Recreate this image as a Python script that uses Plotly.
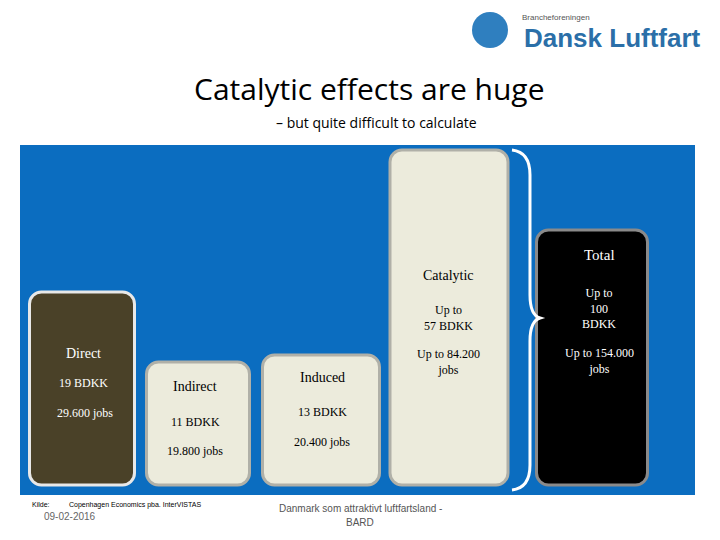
import plotly.graph_objects as go

W, H = 720, 540
categories = ["Direct", "Indirect", "Induced", "Catalytic", "Total"]
bdkk_labels = ["19 BDKK", "11 BDKK", "13 BDKK", "Up to<br>57 BDKK", "Up to<br>100<br>BDKK"]
jobs_labels = ["29.600 jobs", "19.800 jobs", "20.400 jobs", "Up to 84.200<br>jobs", "Up to 154.000<br>jobs"]
box_heights = [193, 123, 130, 335, 255]
box_centers = [62, 178, 301, 429, 572]
box_widths = [105, 103, 117, 118, 111]
fills = ["#4a4128", "#ecebdc", "#ecebdc", "#ecebdc", "#000000"]
borders = ["#e8e8e8", "#b0b0a8", "#b0b0a8", "#b0b0a8", "#8a8a8a"]

fig = go.Figure()
fig.add_trace(go.Bar(x=box_centers, y=box_heights, base=[10]*5, width=box_widths,
                     marker=dict(color=fills, line=dict(color=borders, width=3), cornerradius=12),
                     hoverinfo="skip"))

def px(x, y):
    return x / W, 1 - y / H

ann = []
def t(x, y, s, size=12, color="black", family="Liberation Serif", xanchor="center"):
    xx, yy = px(x, y)
    ann.append(dict(x=xx, y=yy, xref="paper", yref="paper", text=s, showarrow=False,
                    xanchor=xanchor, yanchor="middle",
                    font=dict(size=size, color=color, family=family)))

t(370, 89, "Catalytic effects are huge", 30, "black", "Open Sans")
t(376, 123, "– but quite difficult to calculate", 14, "black", "Open Sans")
t(520, 18, "Brancheforeningen", 8, "#555", "Liberation Sans", xanchor="left")
t(612, 38, "<b>Dansk Luftfart</b>", 26, "#2b6fa8", "Liberation Sans")
t(83, 353, "Direct", 14, "white")
t(195, 386, "Indirect", 14, "black")
t(322, 377, "Induced", 14, "black")
t(448, 275, "Catalytic", 14, "black")
t(599, 255, "Total", 15, "white")
t(83, 383, bdkk_labels[0], 12, "white")
t(85, 413, jobs_labels[0], 12, "white")
t(195, 422, bdkk_labels[1], 12, "black")
t(195, 451, jobs_labels[1], 12, "black")
t(322, 412, bdkk_labels[2], 12, "black")
t(322, 442, jobs_labels[2], 12, "black")
t(448, 318, bdkk_labels[3], 12, "black")
t(448, 362, jobs_labels[3], 12, "black")
t(599, 308, bdkk_labels[4], 12, "white")
t(599, 361, jobs_labels[4], 12, "white")
t(30, 505, "Kilde:          Copenhagen Economics pba. InterVISTAS", 7, "black", "Liberation Sans", xanchor="left")
t(70, 516, "09-02-2016", 10, "#666", "Liberation Sans")
t(360, 508, "Danmark som attraktivt luftfartsland -", 10, "#555", "Liberation Sans")
t(360, 522, "BARD", 10, "#555", "Liberation Sans")

def P(x, y):
    a, b = px(x, y)
    return f"{a:.4f},{b:.4f}"
brace = (f"M {P(512,150)} Q {P(530,152)} {P(530,175)} L {P(530,295)} Q {P(530,315)} {P(540,318)} "
         f"Q {P(530,321)} {P(530,341)} L {P(530,465)} Q {P(530,488)} {P(512,490)}")
shapes = [dict(type="path", xref="paper", yref="paper", path=brace, line=dict(color="white", width=3)),
          dict(type="circle", xref="paper", yref="paper",
               x0=472/W, x1=508/W, y0=1-48/H, y1=1-12/H, fillcolor="#2f7fbf", line=dict(width=0))]

fig.update_layout(width=W, height=H, margin=dict(l=0, r=0, t=0, b=0),
                  paper_bgcolor="white", plot_bgcolor="#0b6dc0", showlegend=False,
                  xaxis=dict(domain=[20/W, 695/W], range=[0, 675], visible=False, fixedrange=True),
                  yaxis=dict(domain=[45/H, 395/H], range=[0, 350], visible=False, fixedrange=True),
                  annotations=ann, shapes=shapes)
fig.write_html("out.html", post_script="document.body.style.margin='0';",
               config={"displayModeBar": False})
